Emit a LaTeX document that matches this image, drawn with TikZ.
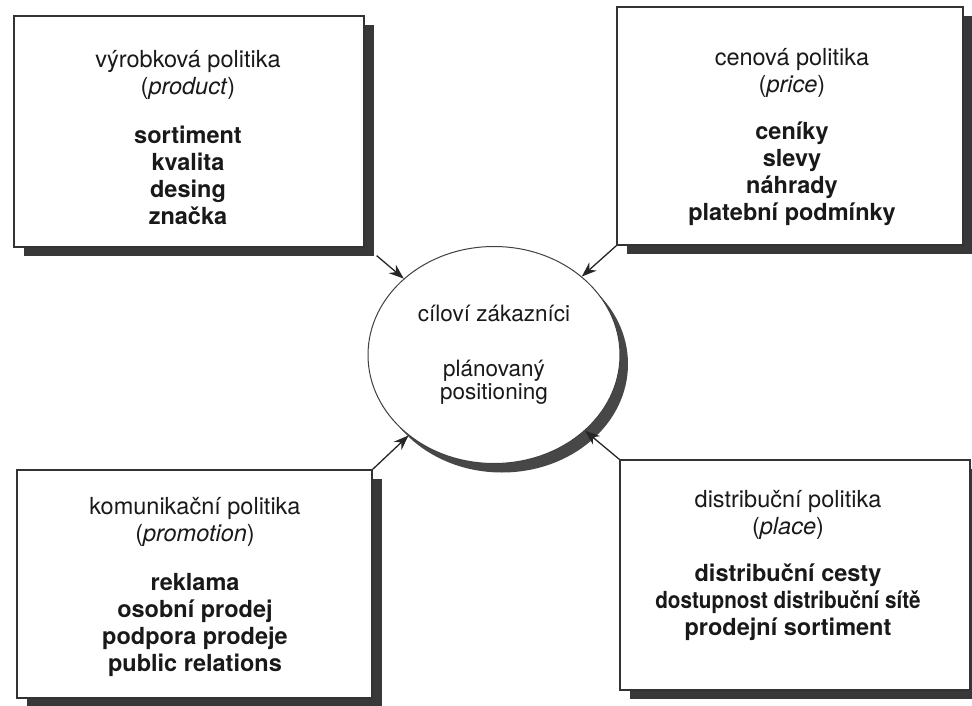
\documentclass[tikz,border=0pt]{standalone}
\usepackage{fontspec}
\setmainfont{TeX Gyre Heros}
\usetikzlibrary{arrows.meta,shapes.geometric,shadows}
\begin{document}
\begin{tikzpicture}[x=1pt,y=-1pt,
  box/.style={rectangle, draw=black!80, line width=1.3pt, fill=white, inner sep=0pt,
     drop shadow={shadow xshift=10pt, shadow yshift=-9pt, fill=black!78, opacity=1}},
  txt/.style={align=center, inner sep=0pt, text=black!90, font=\fontsize{23.5}{27}\selectfont},
  hub/.style={ellipse, draw=black!75, line width=1pt, fill=white, inner sep=0pt,
     align=center, text=black!90, font=\fontsize{22.5}{23}\selectfont,
     drop shadow={shadow xshift=8pt, shadow yshift=-9pt, fill=black!72, opacity=1}},
  arr/.style={draw=black!85, line width=1.3pt, -{Stealth[length=15pt,width=11pt]}},
]
\useasboundingbox (0,0) rectangle (972,706);
\fill[white] (0,0) rectangle (972,706);

% boxes
\node[box, minimum width=350pt, minimum height=231pt] (b1) at (189,131.5) {};
\node[box, minimum width=346pt, minimum height=238pt] (b2) at (790,126) {};
\node[box, minimum width=355pt, minimum height=228pt] (b3) at (194.5,584) {};
\node[box, minimum width=350pt, minimum height=230pt] (b4) at (795,575) {};

% box texts
\node[txt] (t1) at (188,138) {výrobková politika\\(\textit{product})\\[22pt]%
\textbf{sortiment}\\\textbf{kvalita}\\\textbf{desing}\\\textbf{značka}};
\node[txt] (t2) at (792,137) {cenová politika\\(\textit{price})\\[20pt]%
\textbf{ceníky}\\\textbf{slevy}\\\textbf{náhrady}\\\textbf{platební podmínky}};
\node[txt] (t3) at (195,587) {komunikační politika\\(\textit{promotion})\\[22pt]%
\textbf{reklama}\\\textbf{osobní prodej}\\\textbf{podpora prodeje}\\\textbf{public relations}};
\node[txt] (t4) at (788,565) {distribuční politika\\(\textit{place})\\[20pt]%
\textbf{distribuční cesty}\\\scalebox{0.88}[1]{\textbf{dostupnost distribuční sítě}}\\\textbf{prodejní sortiment}};

% central ellipse
\node[hub, minimum width=252pt, minimum height=217pt] (c) at (494,355)
  {cíloví zákazníci\\[32pt]plánovaný\\positioning};

% connectors
\coordinate (s1) at ([shift={(12,8)}]b1.south east);
\draw[arr] (s1) -- (c);
\draw[arr] (b2.south west) -- (c);
\draw[arr] (b3.north east) -- (c);
\draw[arr] (b4.north west) -- (c);
\end{tikzpicture}
\end{document}
